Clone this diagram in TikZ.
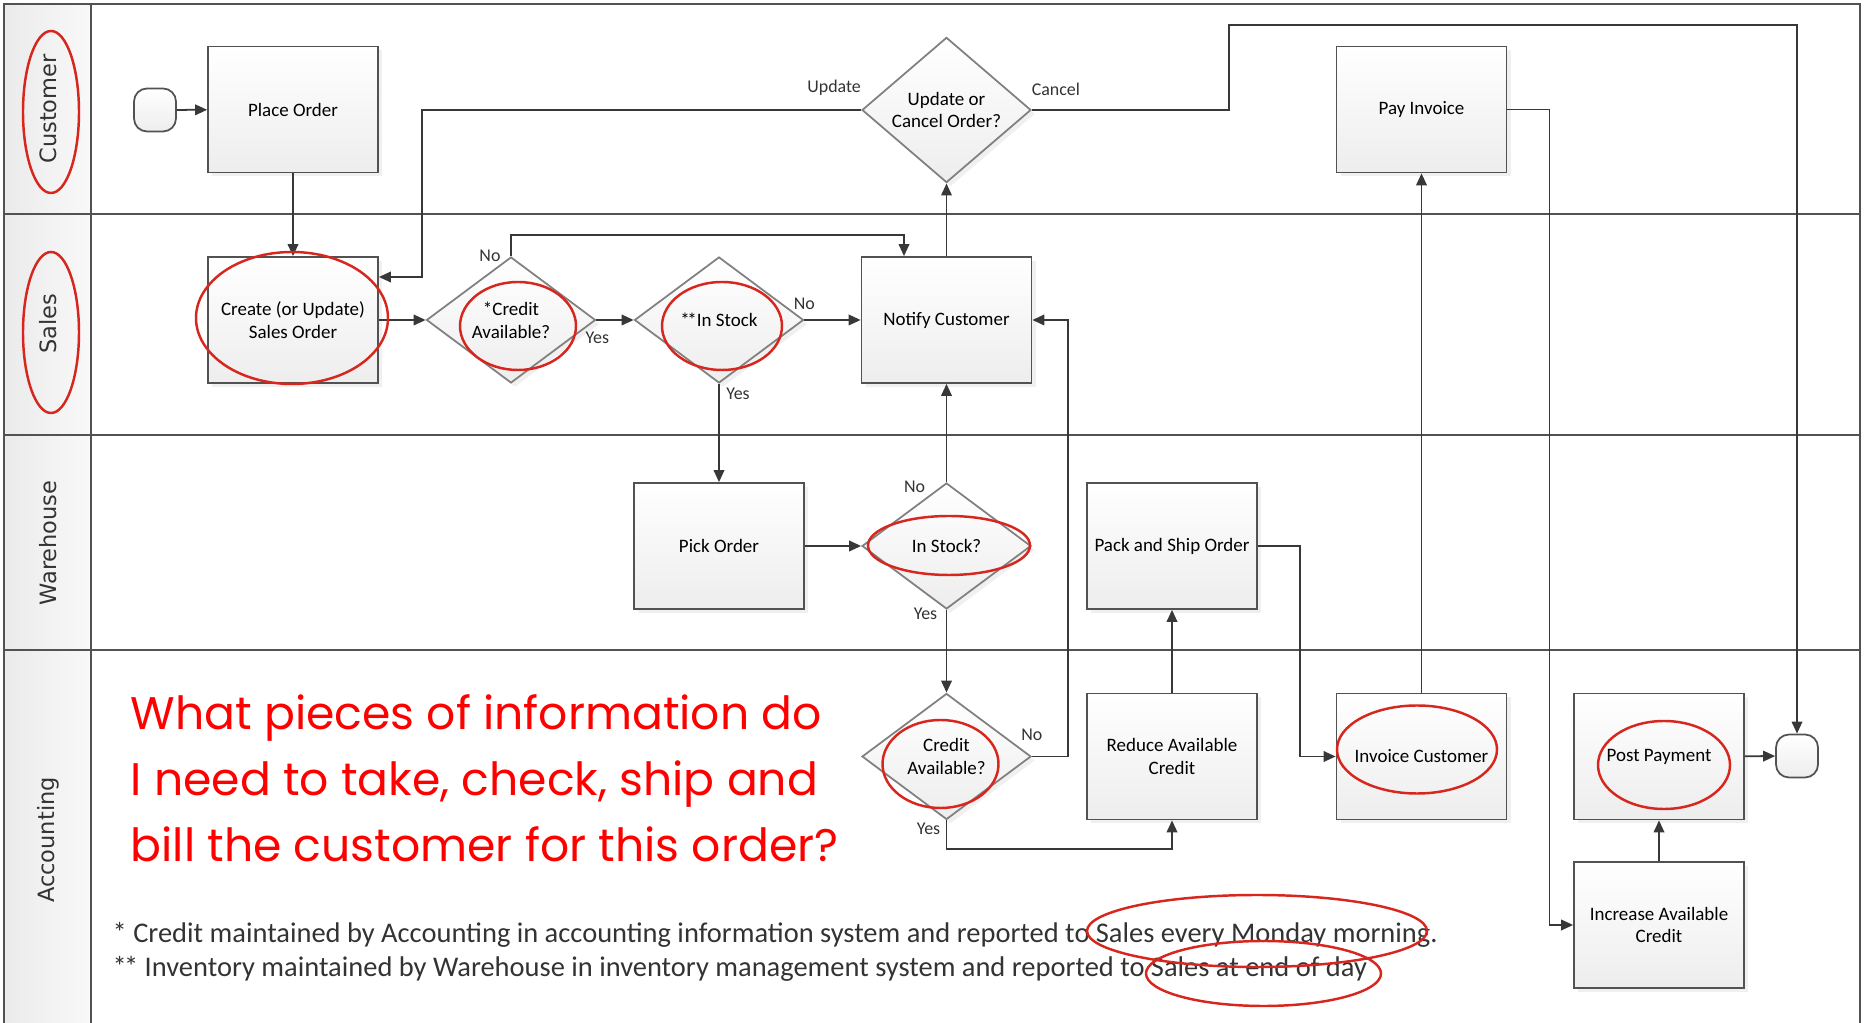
\documentclass[tikz,border=0pt]{standalone}
\usepackage{fontspec}
\setmainfont{Carlito}
\newfontfamily\lanefont{DejaVu Sans}
\newfontfamily\askfont{Poppins}
\usetikzlibrary{calc,shapes.geometric,arrows.meta,shadows}
\colorlet{frameline}{black!68}
\colorlet{boxline}{black!68}
\colorlet{diamondline}{black!50}
\colorlet{flowline}{black!78}
\colorlet{lanefill}{gray!10}
\definecolor{markred}{RGB}{214,38,30}
\definecolor{askred}{RGB}{255,0,0}

\begin{document}
\begin{tikzpicture}[x=1cm, y=-1cm,
    process/.style={rectangle, draw=boxline, line width=0.5pt, top color=white, bottom color=gray!14,
        minimum width=1.7cm, minimum height=1.26cm, inner sep=1pt, align=center,
        font=\fontsize{5.4}{6.5}\selectfont,
        drop shadow={shadow xshift=0.4mm, shadow yshift=-0.4mm, opacity=0.12}},
    decision/.style={diamond, draw=diamondline, line width=0.5pt, top color=white, bottom color=gray!14,
        minimum width=1.69cm, minimum height=1.26cm, inner sep=0pt, align=center,
        font=\fontsize{5.4}{6.5}\selectfont,
        drop shadow={shadow xshift=0.4mm, shadow yshift=-0.4mm, opacity=0.12}},
    terminal/.style={rectangle, rounded corners=1.3mm, draw=boxline, line width=0.5pt,
        top color=white, bottom color=gray!14, minimum width=4.2mm, minimum height=4.3mm},
    flow/.style={draw=flowline, line width=0.5pt, -{Triangle[length=3.4pt,width=3pt]}},
    tag/.style={font=\fontsize{5.1}{6}\selectfont, text=black!80, inner sep=0pt},
    ring/.style={draw=markred, line width=0.7pt},
    lanename/.style={rotate=90, font=\lanefont\fontsize{6.4}{7.5}\selectfont, text=black!80},
    note/.style={font=\fontsize{8.1}{9.4}\selectfont, text=black!80, inner sep=0pt}]

    \useasboundingbox (0,0) rectangle (18.65,10.23);

    % lanes
    \shade[left color=gray!16, right color=gray!5] (0.04,0.04) rectangle (0.91,10.25);
    \draw[frameline, line width=0.6pt] (0.04,10.25) -- (0.04,0.04) -- (18.60,0.04) -- (18.60,10.25);
    \draw[frameline, line width=0.6pt] (0.91,0.04) -- (0.91,10.25);
    \foreach \y in {2.14,4.35,6.50}
        \draw[frameline, line width=0.6pt] (0.04,\y) -- (18.60,\y);

    % lane names
    \node[lanename] (customer) at (0.48,1.09) {Customer};
    \node[lanename] (sales) at (0.48,3.24) {Sales};
    \node[lanename] (warehouse) at (0.48,5.43) {Warehouse};
    \node[lanename] (accounting) at (0.48,8.40) {Accounting};

    % steps
    \node[terminal] (start) at (1.55,1.10) {};
    \node[process] (place) at (2.93,1.095) {Place Order};
    \node[process] (create) at (2.93,3.20) {Create (or Update)\\Sales Order};
    \node[decision] (credit) at (5.11,3.20) {*Credit\\Available?};
    \node[decision] (stock) at (7.19,3.20) {*\kern-0.7pt*In Stock};
    \node[process] (notify) at (9.465,3.20) {Notify Customer};
    \node[decision] (choice) at (9.465,1.10) {Update or\\Cancel Order?};
    \node[process] (pay) at (14.215,1.095) {Pay Invoice};
    \node[process] (pick) at (7.19,5.46) {Pick Order};
    \node[decision] (instock) at (9.465,5.46) {In Stock?};
    \node[process] (pack) at (11.72,5.46) {Pack and Ship Order};
    \node[decision] (credit2) at (9.465,7.565) {Credit\\Available?};
    \node[process] (reduce) at (11.72,7.565) {Reduce Available\\Credit};
    \node[process] (invoice) at (14.215,7.565) {Invoice Customer};
    \node[process] (post) at (16.59,7.565) {Post Payment};
    \node[process] (increase) at (16.59,9.25) {Increase Available\\Credit};
    \node[terminal] (stop) at (17.97,7.56) {};

    % flow
    \draw[flow] (start) -- (place);
    \draw[flow] (place) -- (create);
    \draw[flow] (create) -- (credit);
    \draw[flow] (credit) -- (stock);
    \draw[flow] (credit.north) -- ++(0,-0.21) -| ([xshift=-4.25mm]notify.north);
    \draw[flow] (stock) -- (notify);
    \draw[flow] (stock) -- (pick);
    \draw[flow] (notify) -- (choice);
    \coordinate (updturn) at (4.22,2.77);
    \draw[flow] (choice.west) -| (updturn) -- (updturn -| create.east);
    \coordinate (cancelturn) at (12.29,0.25);
    \draw[flow] (choice.east) -| (cancelturn) -| (stop.north);
    \draw[flow] (pay.east) -- ++(0.42,0) |- (increase.west);
    \draw[flow] (invoice) -- (pay);
    \draw[flow] (pick) -- (instock);
    \draw[flow] (instock) -- (notify);
    \draw[flow] (instock) -- (credit2);
    \draw[flow] (credit2.east) -- ++(0.36,0) |- (notify.east);
    \draw[flow] (credit2.south) -- ++(0,0.29) -| (reduce.south);
    \draw[flow] (reduce) -- (pack);
    \draw[flow] (pack.east) -- ++(0.42,0) |- (invoice.west);
    \draw[flow] (increase) -- (post);
    \draw[flow] (post) -- (stop);

    % branch labels
    \node[tag] (creditno) at ($(credit.north)+(-0.21,0)$) {No};
    \node[tag] (credityes) at ($(credit.east)+(0.01,0.18)$) {Yes};
    \node[tag] (stockno) at ($(stock.east)+(0,-0.16)$) {No};
    \node[tag] (stockyes) at ($(stock.south)+(0.19,0.10)$) {Yes};
    \node[tag] (update) at ($(choice.west)+(-0.27,-0.22)$) {Update};
    \node[tag] (cancel) at ($(choice.east)+(0.24,-0.21)$) {Cancel};
    \node[tag] (instockno) at ($(instock.north)+(-0.32,0.05)$) {No};
    \node[tag] (instockyes) at ($(instock.south)+(-0.21,0.04)$) {Yes};
    \node[tag] (credit2no) at ($(credit2.east)+(0,-0.22)$) {No};
    \node[tag] (credit2yes) at ($(credit2.south)+(-0.18,0.08)$) {Yes};

    % question
    \node[anchor=base west, align=left, inner sep=0pt, text=askred,
        font=\askfont\fontsize{13}{18.8}\selectfont] (ask) at (1.30,8.62)
        {What pieces of information do\\I need to take, check, ship and\\bill the customer for this order?};

    % footnotes
    \node[note, anchor=base west] (note1) at (1.12,9.43)
        {* Credit maintained by Accounting in accounting information system and reported to Sales every Monday morning.};
    \node[note, anchor=base west] (note2) at (1.12,9.76)
        {*\kern-0.8pt* Inventory maintained by Warehouse in inventory management system and reported to Sales at end of day};

    % red rings
    \foreach \cx/\cy/\rx/\ry in {0.51/1.12/0.28/0.81, 0.51/3.325/0.28/0.805, 2.92/3.18/0.96/0.66,
        5.18/3.26/0.58/0.44, 7.22/3.26/0.60/0.44, 9.49/5.455/0.81/0.295, 9.405/7.64/0.58/0.44,
        14.17/7.495/0.80/0.44, 16.64/7.65/0.66/0.44, 12.57/9.31/1.70/0.36, 12.635/9.735/1.175/0.325}
        \draw[ring] (\cx,\cy) ellipse (\rx cm and \ry cm);

\end{tikzpicture}
\end{document}
